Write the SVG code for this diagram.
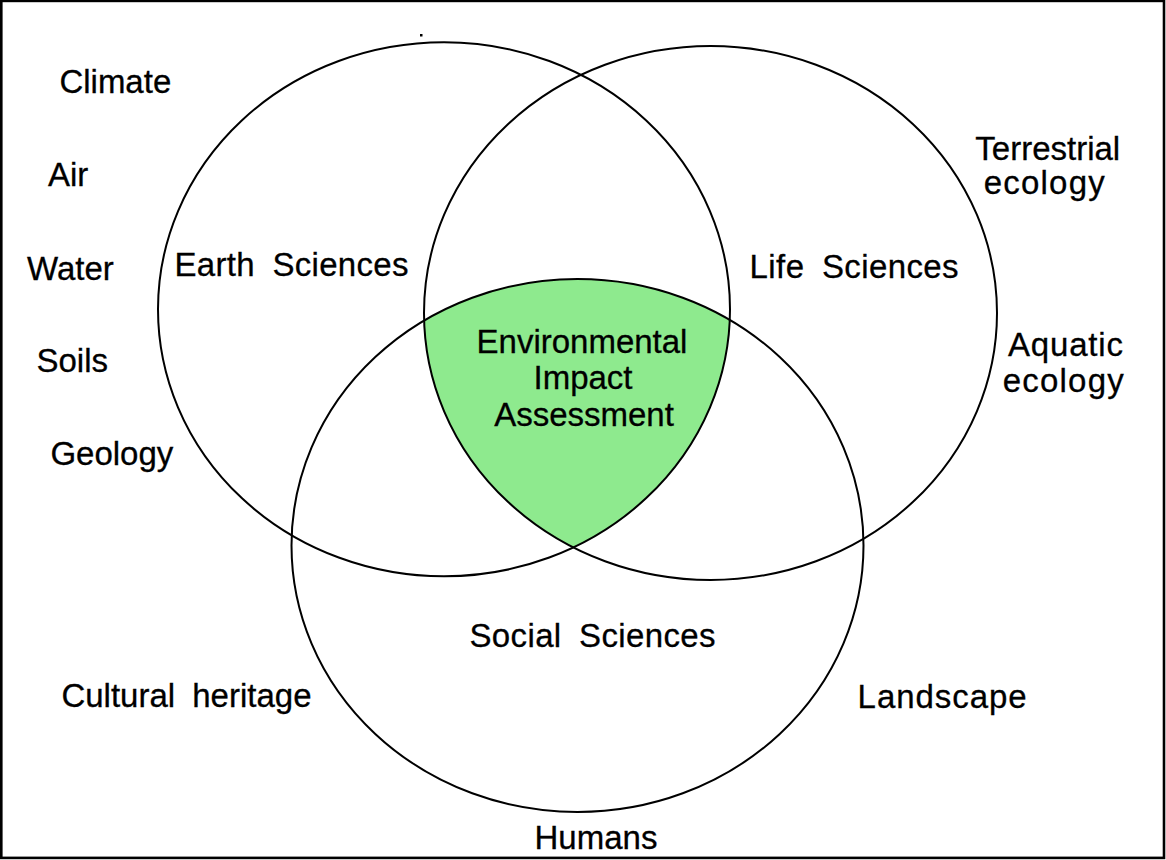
<svg xmlns="http://www.w3.org/2000/svg" width="1166" height="860" viewBox="0 0 1166 860">
  <style>
    .ring { fill: none; stroke: #000; stroke-width: 2; }
    .lbl { font-family: "Liberation Sans", Arial, sans-serif; font-size: 33px; fill: #000; stroke: #000; stroke-width: 0.3; word-spacing: 8px; }
    .mid { text-anchor: middle; }
  </style>
  <defs>
    <clipPath id="clipEarth"><ellipse cx="444" cy="309.3" rx="286" ry="267"/></clipPath>
    <clipPath id="clipLife"><ellipse cx="710.5" cy="313" rx="286.5" ry="267"/></clipPath>
  </defs>
  <rect x="0" y="0" width="1166" height="860" fill="#fff"/>
  <rect x="1.3" y="0.9" width="1162.7" height="857" fill="none" stroke="#000" stroke-width="2.6"/>
  <rect x="420" y="34" width="2.5" height="2.5" fill="#000"/>

  <g id="eia">
    <g clip-path="url(#clipEarth)">
      <g clip-path="url(#clipLife)">
        <ellipse cx="577.5" cy="545.5" rx="286" ry="266.5" fill="#8eea8e"/>
      </g>
    </g>
    <text class="lbl mid" x="582" y="353">Environmental</text>
    <text class="lbl mid" x="583" y="389">Impact</text>
    <text class="lbl mid" x="584" y="426">Assessment</text>
  </g>

  <g id="earth-sciences">
    <ellipse class="ring" cx="444" cy="309.3" rx="286" ry="267"/>
    <text class="lbl" x="174.5" y="276" textLength="234">Earth Sciences</text>
  </g>
  <g id="life-sciences">
    <ellipse class="ring" cx="710.5" cy="313" rx="286.5" ry="267"/>
    <text class="lbl" x="749.6" y="278" textLength="209">Life Sciences</text>
  </g>
  <g id="social-sciences">
    <ellipse class="ring" cx="577.5" cy="545.5" rx="286" ry="266.5"/>
    <text class="lbl" x="469.5" y="647" textLength="246">Social Sciences</text>
  </g>

  <g id="connectors"></g>

  <g id="earth-topics">
    <text class="lbl" x="59.4" y="93">Climate</text>
    <text class="lbl" x="48" y="186">Air</text>
    <text class="lbl" x="27" y="280">Water</text>
    <text class="lbl" x="36.5" y="372">Soils</text>
    <text class="lbl" x="50.4" y="465">Geology</text>
  </g>
  <g id="life-topics">
    <text class="lbl" x="975.3" y="160">Terrestrial</text>
    <text class="lbl" x="983.7" y="194" textLength="121">ecology</text>
    <text class="lbl" x="1008" y="356" textLength="115">Aquatic</text>
    <text class="lbl" x="1002.7" y="391.5" textLength="121">ecology</text>
  </g>
  <g id="social-topics">
    <text class="lbl" x="61.4" y="707">Cultural heritage</text>
    <text class="lbl" x="857.6" y="708" textLength="169">Landscape</text>
    <text class="lbl" x="534.5" y="849">Humans</text>
  </g>
</svg>
